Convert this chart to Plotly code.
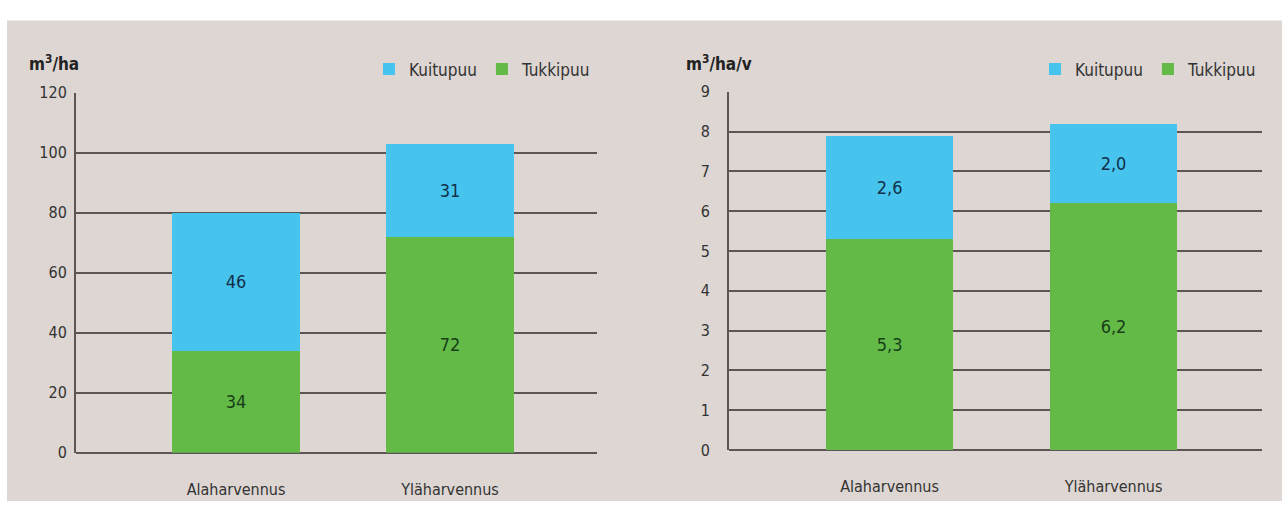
import plotly.graph_objects as go

categories = ["Alaharvennus", "Yläharvennus"]
left_tukki = [34, 72]
left_kuitu = [46, 31]
right_tukki = [5.3, 6.2]
right_kuitu = [2.6, 2.0]
left_ticks = [0, 20, 40, 60, 80, 100, 120]
right_ticks = [0, 1, 2, 3, 4, 5, 6, 7, 8, 9]

W, H = 1282, 511
BG = "#ddd6d2"
GREEN = "#63ba47"
BLUE = "#46c4ee"
GRID = "#5c5455"
TXT = "#333333"
FONT = "DejaVu Sans Condensed, Liberation Sans Narrow, sans-serif"

def fx(px):
    return px / W

def fy(py):
    return 1 - py / H

def fmt_int(vals):
    return [f"{v:d}" for v in vals]

def fmt_dec(vals):
    return [f"{v:.1f}".replace(".", ",") for v in vals]

fig = go.Figure()

common = dict(textposition="inside", insidetextanchor="middle", cliponaxis=False,
              hoverinfo="skip")

fig.add_trace(go.Bar(x=categories, y=left_tukki, name="Tukkipuu", marker_color=GREEN,
                     text=fmt_int(left_tukki), textfont=dict(color="#173f17", size=18, family=FONT),
                     width=0.598, xaxis="x", yaxis="y", legend="legend", **common))
fig.add_trace(go.Bar(x=categories, y=left_kuitu, name="Kuitupuu", marker_color=BLUE,
                     text=fmt_int(left_kuitu), textfont=dict(color="#12304a", size=18, family=FONT),
                     width=0.598, xaxis="x", yaxis="y", legend="legend", **common))
fig.add_trace(go.Bar(x=categories, y=right_tukki, name="Tukkipuu", marker_color=GREEN,
                     text=fmt_dec(right_tukki), textfont=dict(color="#173f17", size=18, family=FONT),
                     width=0.567, xaxis="x2", yaxis="y2", legend="legend2", **common))
fig.add_trace(go.Bar(x=categories, y=right_kuitu, name="Kuitupuu", marker_color=BLUE,
                     text=fmt_dec(right_kuitu), textfont=dict(color="#12304a", size=18, family=FONT),
                     width=0.567, xaxis="x2", yaxis="y2", legend="legend2", **common))

for t in fig.data:
    t.marker.line.width = 0

xaxis_common = dict(type="category", showgrid=False, zeroline=False, showline=False,
                    ticks="outside", tickcolor="rgba(0,0,0,0)", ticklen=22,
                    tickfont=dict(family=FONT, size=16, color=TXT), fixedrange=True)
yaxis_common = dict(showgrid=True, gridcolor=GRID, gridwidth=2, zeroline=True,
                    zerolinecolor=GRID, zerolinewidth=2, showline=True, linecolor=GRID,
                    linewidth=2, ticks="outside", tickcolor="rgba(0,0,0,0)",
                    tickfont=dict(family=FONT, size=16, color=TXT), fixedrange=True)

fig.update_layout(
    width=W, height=H,
    margin=dict(l=0, r=0, t=0, b=0),
    paper_bgcolor="white",
    plot_bgcolor="rgba(0,0,0,0)",
    barmode="stack",
    xaxis=dict(domain=[fx(76), fx(597)], range=[-0.748, 1.687], anchor="y", **xaxis_common),
    yaxis=dict(domain=[fy(461), fy(87)], range=[0, 120], tickvals=left_ticks, ticklen=4,
               anchor="x", **yaxis_common),
    xaxis2=dict(domain=[fx(729), fx(1262)], range=[-0.717, 1.663], anchor="y2", **xaxis_common),
    yaxis2=dict(domain=[fy(458), fy(86)], range=[0, 9], tickvals=right_ticks, ticklen=14,
                anchor="x2", **yaxis_common),
    legend=dict(orientation="h", x=fx(596), xanchor="right", y=fy(44), yanchor="top",
                traceorder="reversed", bgcolor="rgba(0,0,0,0)",
                font=dict(family=FONT, size=17, color=TXT)),
    legend2=dict(orientation="h", x=fx(1262), xanchor="right", y=fy(44), yanchor="top",
                 traceorder="reversed", bgcolor="rgba(0,0,0,0)",
                 font=dict(family=FONT, size=17, color=TXT)),
    shapes=[dict(type="rect", xref="paper", yref="paper", x0=fx(7), x1=1, y0=0, y1=fy(12),
                 fillcolor=BG, line_width=0, layer="below")],
    annotations=[
        dict(text="<b>m<sup>3</sup>/ha</b>", xref="paper", yref="paper", x=fx(27), y=fy(56),
             xanchor="left", yanchor="middle", showarrow=False,
             font=dict(family=FONT, size=17, color="#222222")),
        dict(text="<b>m<sup>3</sup>/ha/v</b>", xref="paper", yref="paper", x=fx(684), y=fy(56),
             xanchor="left", yanchor="middle", showarrow=False,
             font=dict(family=FONT, size=17, color="#222222")),
    ],
    font=dict(family=FONT, color=TXT),
)

fig.write_html("out.html")
